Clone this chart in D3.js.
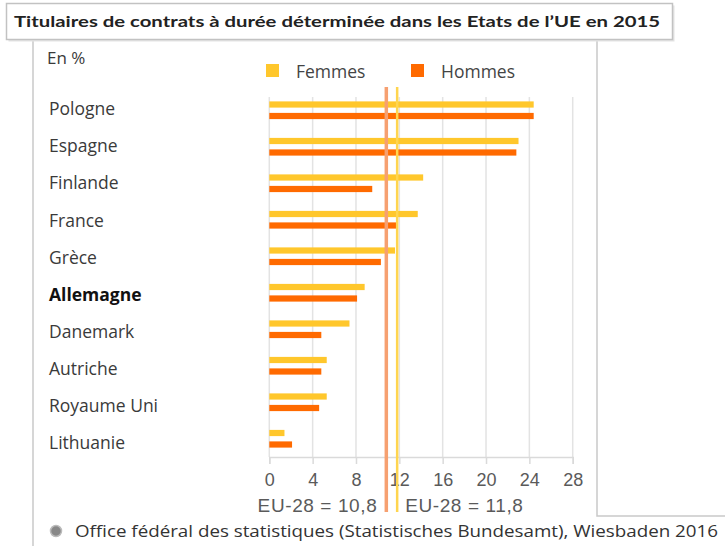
<!DOCTYPE html>
<html>
<head>
<meta charset="utf-8">
<script src="https://cdn.jsdelivr.net/npm/d3@7"></script>
<style>
  body { margin: 0; background: #fff; }
  svg { display: block; }
</style>
</head>
<body>
<svg id="chart"></svg>
<script>
// Titulaires de contrats à durée déterminée dans les Etats de l'UE en 2015 (en %)

const COUNTRIES = ['Pologne', 'Espagne', 'Finlande', 'France', 'Grèce', 'Allemagne',
                   'Danemark', 'Autriche', 'Royaume Uni', 'Lithuanie'];
const FEMMES = [24.4, 23.0, 14.2, 13.7, 11.6, 8.8, 7.4, 5.3, 5.3, 1.4];
const HOMMES = [24.4, 22.8, 9.5, 11.7, 10.3, 8.1, 4.8, 4.8, 4.6, 2.1];
const X_TICKS = [0, 4, 8, 12, 16, 20, 24, 28];
const EU_VALUES = [10.8, 11.8];           // hommes, femmes
const EU_LABELS = ['EU-28 = 10,8', 'EU-28 = 11,8'];
const HIGHLIGHT = 'Allemagne';

const TITLE = 'Titulaires de contrats à durée déterminée dans les Etats de l’UE en 2015';
const SOURCE = 'Office fédéral des statistiques (Statistisches Bundesamt), Wiesbaden 2016';

const W = 725, H = 546;
const C_FEM = '#ffc72c';
const C_HOM = '#ff6a00';
const FONT = '"Open Sans", Lato, sans-serif';
const TITLE_FONT = 'Lato, "Open Sans", sans-serif';
const NUM_FONT = '"Liberation Sans", Arial, sans-serif';

const svg = d3.select('#chart').attr('width', W).attr('height', H);

// ── Frames ────────────────────────────────────────────────────────────────
const frame = svg.append('g').attr('fill', 'none').attr('stroke', '#c9c9c9').attr('stroke-width', 1.5);
frame.append('path').attr('d', 'M33,40 V546');
frame.append('path').attr('d', 'M597,40 V516 H725');
// title box with soft shadow
svg.append('rect').attr('x', 8.5).attr('y', 5.5).attr('width', 666).attr('height', 36)
    .attr('fill', '#e4e4e4');
svg.append('rect').attr('x', 6.5).attr('y', 3.5).attr('width', 666).attr('height', 36)
    .attr('fill', '#fff').attr('stroke', '#c2c2c2').attr('stroke-width', 1.5);
svg.append('text')
    .attr('x', 14).attr('y', 27)
    .attr('font-family', TITLE_FONT).attr('font-weight', 700).attr('font-size', 16)
    .attr('fill', '#222')
    .attr('textLength', 646).attr('lengthAdjust', 'spacingAndGlyphs')
    .text(TITLE);

// ── Scales ────────────────────────────────────────────────────────────────
const x = d3.scaleLinear().domain([0, 28]).range([269.3, 572.7]);
const y = d3.scaleBand().domain(COUNTRIES).range([92, 457]).paddingInner(0).paddingOuter(0);
const step = y.step();
const ySub = d3.scaleBand().domain(['femmes', 'hommes'])
    .range([step / 2 - 11.5, step / 2 + 11.5]).paddingInner(0.46).paddingOuter(0.23);

// ── Grid + axis ───────────────────────────────────────────────────────────
const grid = svg.append('g');
grid.selectAll('line').data(X_TICKS).join('line')
    .attr('x1', d => x(d)).attr('x2', d => x(d))
    .attr('y1', 97).attr('y2', 457)
    .attr('stroke', '#e3e3e3').attr('stroke-width', 1.5);

const axis = svg.append('g').attr('transform', 'translate(0,457)')
    .call(d3.axisBottom(x).tickValues(X_TICKS).tickSize(7).tickPadding(9).tickFormat(d3.format('d')));
axis.select('.domain').attr('stroke', '#dadada').attr('stroke-width', 1.5);
axis.selectAll('.tick line').attr('stroke', '#dadada').attr('stroke-width', 1.5);
axis.selectAll('.tick text')
    .attr('font-family', NUM_FONT).attr('font-size', 18).attr('fill', '#5a5a5a');

// ── Bars ──────────────────────────────────────────────────────────────────
const rows = COUNTRIES.map((c, i) => ({ country: c, femmes: FEMMES[i], hommes: HOMMES[i] }));
const groups = svg.append('g').selectAll('g').data(rows).join('g')
    .attr('transform', d => `translate(0,${y(d.country)})`);

groups.selectAll('rect')
    .data(d => [{ key: 'femmes', value: d.femmes }, { key: 'hommes', value: d.hommes }])
    .join('rect')
    .attr('x', x(0))
    .attr('y', d => ySub(d.key))
    .attr('height', ySub.bandwidth())
    .attr('width', d => x(d.value) - x(0))
    .attr('fill', d => d.key === 'femmes' ? C_FEM : C_HOM);

// country labels
svg.append('g').selectAll('text').data(COUNTRIES).join('text')
    .attr('x', 49)
    .attr('y', (d, i) => y(d) + step / 2 - 2 + i * 0.6)
    .attr('dominant-baseline', 'central')
    .attr('font-family', FONT).attr('font-size', 17.5)
    .attr('font-weight', d => d === HIGHLIGHT ? 700 : 400)
    .attr('fill', d => d === HIGHLIGHT ? '#111' : '#3a3a3a')
    .text(d => d);

// ── EU-28 reference lines ─────────────────────────────────────────────────
const euColors = ['#f6a070', '#ffd54f'];
const euWidths = [3.5, 2.5];
svg.append('g').selectAll('line').data(EU_VALUES).join('line')
    .attr('x1', d => x(d)).attr('x2', d => x(d))
    .attr('y1', 87).attr('y2', 512)
    .attr('stroke', (d, i) => euColors[i])
    .attr('stroke-width', (d, i) => euWidths[i]);

svg.append('g').selectAll('text').data(EU_VALUES).join('text')
    .attr('x', (d, i) => i === 0 ? x(d) - 9 : x(d) + 8)
    .attr('y', 505)
    .attr('dominant-baseline', 'central')
    .attr('text-anchor', (d, i) => i === 0 ? 'end' : 'start')
    .attr('font-family', NUM_FONT).attr('font-size', 19).attr('fill', '#5a5a5a')
    .attr('letter-spacing', 0.6)
    .text((d, i) => EU_LABELS[i]);

// ── Header: unit + legend ─────────────────────────────────────────────────
svg.append('text').attr('x', 47).attr('y', 57).attr('dominant-baseline', 'central')
    .attr('font-family', FONT).attr('font-size', 17).attr('fill', '#3a3a3a').text('En %');

const legend = svg.append('g').selectAll('g')
    .data([{ label: 'Femmes', color: C_FEM, x: 266 }, { label: 'Hommes', color: C_HOM, x: 411 }])
    .join('g').attr('transform', d => `translate(${d.x},64)`);
legend.append('rect').attr('width', 13).attr('height', 13).attr('fill', d => d.color);
legend.append('text').attr('x', 30).attr('y', 6.5).attr('dominant-baseline', 'central')
    .attr('font-family', FONT).attr('font-size', 17.5).attr('fill', '#444')
    .text(d => d.label);

// ── Source ────────────────────────────────────────────────────────────────
svg.append('circle').attr('cx', 56).attr('cy', 531).attr('r', 5.5)
    .attr('fill', '#888').attr('stroke', '#bbb').attr('stroke-width', 1.5);
svg.append('text').attr('x', 75).attr('y', 531).attr('dominant-baseline', 'central')
    .attr('font-family', FONT).attr('font-size', 16).attr('fill', '#333')
    .attr('textLength', 643).attr('lengthAdjust', 'spacingAndGlyphs')
    .text(SOURCE);
</script>
</body>
</html>
